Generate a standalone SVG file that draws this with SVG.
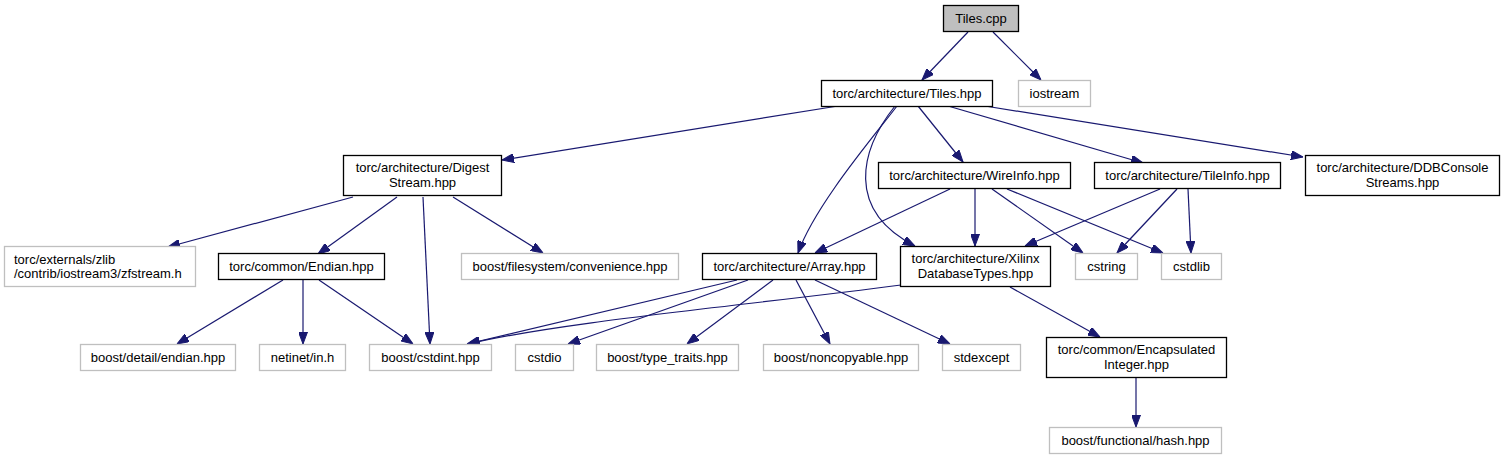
<svg xmlns="http://www.w3.org/2000/svg" width="1505" height="459" viewBox="0 0 1505 459">
<style>
.n rect{fill:#fff;stroke:#000;stroke-width:1.3}
.g rect{fill:#fff;stroke:#bfbfbf;stroke-width:1.3}
.root rect{fill:#bfbfbf;stroke:#000;stroke-width:1.3}
text{font-family:"Liberation Sans",Arial,Helvetica,sans-serif;font-size:13px;fill:#000;text-anchor:middle}
text.l{text-anchor:start}
#edges path{fill:none;stroke:#191970;stroke-width:1.2;marker-end:url(#ah)}
</style>
<defs>
<marker id="ah" viewBox="0 0 12 9" refX="12" refY="4.5" markerWidth="12" markerHeight="9" markerUnits="userSpaceOnUse" orient="auto">
<path d="M0,0 L12,4.5 L0,9 z" fill="#191970" stroke="#191970" stroke-width="1"/>
</marker>
</defs>
<rect width="1505" height="459" fill="#fff"/>
<g id="edges">
<path d="M968,32 L922,80"/>
<path d="M993,32 L1041,80"/>
<path d="M838,106 L502,160"/>
<path d="M897,106 C875,135 815,205 798,253"/>
<path d="M895,106 C860,150 845,210 915,246"/>
<path d="M918,106 L963,162"/>
<path d="M948,106 L1143,163"/>
<path d="M985,106 L1303,157"/>
<path d="M353,197 L168,247"/>
<path d="M397,197 L318,254"/>
<path d="M423,197 L430,344"/>
<path d="M453,197 L543,253"/>
<path d="M950,189 L815,253"/>
<path d="M975,189 L975,246"/>
<path d="M992,189 L1083,253"/>
<path d="M1007,189 L1163,253"/>
<path d="M1160,189 L1025,246"/>
<path d="M1177,189 L1117,253"/>
<path d="M1188,189 L1191,253"/>
<path d="M283,280 L177,344"/>
<path d="M303,280 L303,344"/>
<path d="M319,280 L413,344"/>
<path d="M737,280 L467,344"/>
<path d="M901,285 C750,305 560,322 468,344"/>
<path d="M748,280 L568,344"/>
<path d="M773,280 L687,344"/>
<path d="M796,280 L830,344"/>
<path d="M815,280 L950,344"/>
<path d="M1010,287 L1100,337"/>
<path d="M1136,377 L1136,427"/>
</g>
<g id="tiles_cpp" class="root"><rect x="943.5" y="5.5" width="75" height="26"/><text x="981" y="23">Tiles.cpp</text></g>
<g id="tiles_hpp" class="n"><rect x="821.5" y="80.5" width="171" height="26"/><text x="907" y="98">torc/architecture/Tiles.hpp</text></g>
<g id="iostream" class="g"><rect x="1018.5" y="80.5" width="72" height="26"/><text x="1054.5" y="98">iostream</text></g>
<g id="digeststream" class="n"><rect x="343.5" y="155.5" width="158" height="40"/><text x="422.5" y="171.5">torc/architecture/Digest</text><text x="422.5" y="186.5">Stream.hpp</text></g>
<g id="wireinfo" class="n"><rect x="878.5" y="162.5" width="192" height="26"/><text x="974.5" y="180">torc/architecture/WireInfo.hpp</text></g>
<g id="tileinfo" class="n"><rect x="1094.5" y="162.5" width="186" height="26"/><text x="1187.5" y="180">torc/architecture/TileInfo.hpp</text></g>
<g id="ddbconsole" class="n"><rect x="1305.5" y="155.5" width="194" height="40"/><text x="1402.5" y="171.5">torc/architecture/DDBConsole</text><text x="1402.5" y="186.5">Streams.hpp</text></g>
<g id="zfstream" class="g"><rect x="4.5" y="246.5" width="191" height="40"/><text class="l" x="14" y="263.5">torc/externals/zlib</text><text class="l" x="14" y="278">/contrib/iostream3/zfstream.h</text></g>
<g id="endian" class="n"><rect x="218.5" y="253.5" width="166" height="26"/><text x="301.5" y="271">torc/common/Endian.hpp</text></g>
<g id="convenience" class="g"><rect x="461.5" y="253.5" width="217" height="26"/><text x="570" y="271">boost/filesystem/convenience.hpp</text></g>
<g id="array" class="n"><rect x="702.5" y="253.5" width="174" height="26"/><text x="789.5" y="271">torc/architecture/Array.hpp</text></g>
<g id="xilinx" class="n"><rect x="900.5" y="246.5" width="150" height="40"/><text x="975.5" y="262.5">torc/architecture/Xilinx</text><text x="975.5" y="277.5">DatabaseTypes.hpp</text></g>
<g id="cstring" class="g"><rect x="1075.5" y="253.5" width="62" height="26"/><text x="1106.5" y="271">cstring</text></g>
<g id="cstdlib" class="g"><rect x="1161.5" y="253.5" width="60" height="26"/><text x="1191.5" y="271">cstdlib</text></g>
<g id="detail_endian" class="g"><rect x="80.5" y="344.5" width="155" height="26"/><text x="158" y="362">boost/detail/endian.hpp</text></g>
<g id="netinet" class="g"><rect x="259.5" y="344.5" width="86" height="26"/><text x="302.5" y="362">netinet/in.h</text></g>
<g id="cstdint" class="g"><rect x="369.5" y="344.5" width="122" height="26"/><text x="430.5" y="362">boost/cstdint.hpp</text></g>
<g id="cstdio" class="g"><rect x="515.5" y="344.5" width="58" height="26"/><text x="544.5" y="362">cstdio</text></g>
<g id="type_traits" class="g"><rect x="596.5" y="344.5" width="142" height="26"/><text x="667.5" y="362">boost/type_traits.hpp</text></g>
<g id="noncopyable" class="g"><rect x="763.5" y="344.5" width="155" height="26"/><text x="841" y="362">boost/noncopyable.hpp</text></g>
<g id="stdexcept" class="g"><rect x="942.5" y="344.5" width="78" height="26"/><text x="981.5" y="362">stdexcept</text></g>
<g id="encapsulated" class="n"><rect x="1046.5" y="337.5" width="180" height="40"/><text x="1136.5" y="353.5">torc/common/Encapsulated</text><text x="1136.5" y="368.5">Integer.hpp</text></g>
<g id="hash" class="g"><rect x="1049.5" y="427.5" width="172" height="26"/><text x="1135.5" y="445">boost/functional/hash.hpp</text></g>
</svg>
